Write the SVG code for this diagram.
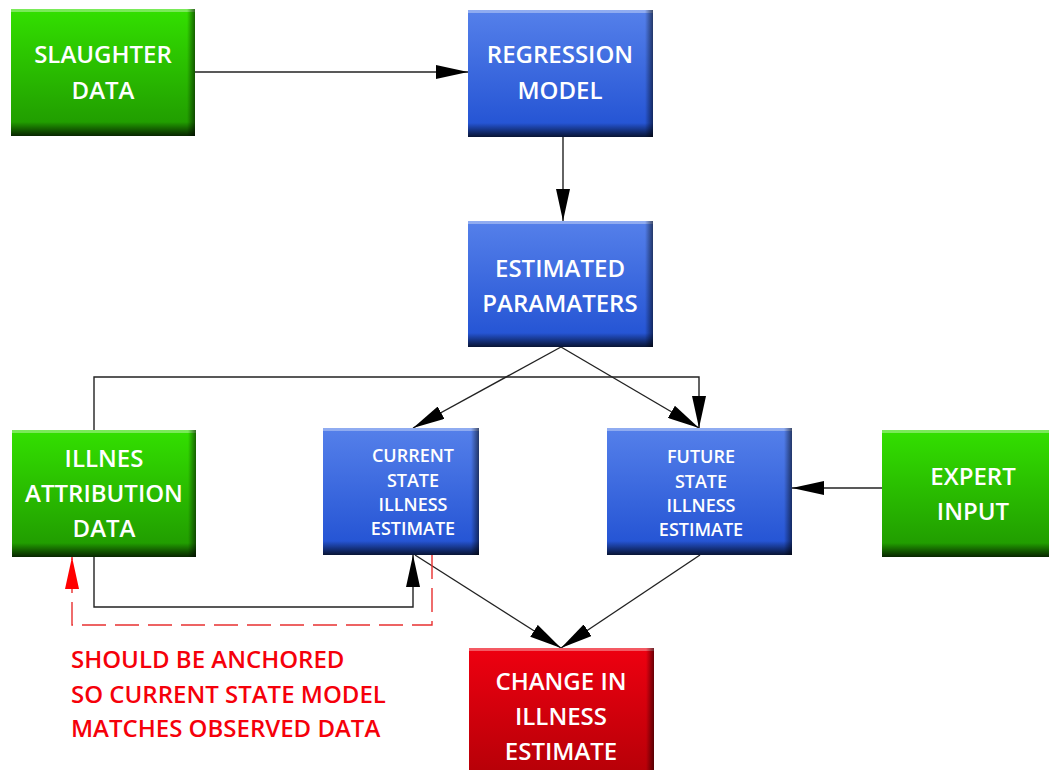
<svg xmlns="http://www.w3.org/2000/svg" width="1049" height="770" viewBox="0 0 1049 770">
<style>
.t{font-family:"Open Sans","Liberation Sans",sans-serif;fill:#fff;text-anchor:middle;font-size:24px;font-weight:600}
.s{font-size:18px}
.r{font-family:"Open Sans","Liberation Sans",sans-serif;fill:#f5000a;font-size:24px;font-weight:600}
.c{fill:none;stroke:#222;stroke-width:1.4}
.d{fill:none;stroke:#e83030;stroke-width:1.4;stroke-dasharray:24 9}
.edge{fill:url(#sh)}
</style>
<defs>
<linearGradient id="g" x1="0" y1="0" x2="0" y2="1"><stop offset="0" stop-color="#33e000"/><stop offset="1" stop-color="#1f9600"/></linearGradient>
<linearGradient id="b" x1="0" y1="0" x2="0" y2="1"><stop offset="0" stop-color="#5580ea"/><stop offset="1" stop-color="#2050d2"/></linearGradient>
<linearGradient id="rd" x1="0" y1="0" x2="0" y2="1"><stop offset="0" stop-color="#ee0010"/><stop offset="1" stop-color="#b80008"/></linearGradient>
<linearGradient id="sh" x1="0" y1="0" x2="0" y2="1"><stop offset="0" stop-color="#000" stop-opacity="0"/><stop offset="1" stop-color="#000" stop-opacity="0.75"/></linearGradient>
<linearGradient id="rs" x1="0" y1="0" x2="1" y2="0"><stop offset="0" stop-color="#000" stop-opacity="0"/><stop offset="1" stop-color="#000" stop-opacity="0.55"/></linearGradient>
<marker id="a" markerWidth="32" markerHeight="14" refX="32" refY="7" orient="auto" markerUnits="userSpaceOnUse"><path d="M0,0 L32,7 L0,14 Z" fill="#000"/></marker>
<marker id="ar" markerWidth="32" markerHeight="14" refX="32" refY="7" orient="auto" markerUnits="userSpaceOnUse"><path d="M0,0 L32,7 L0,14 Z" fill="#f00"/></marker>
</defs>
<g id="connectors">
<line class="c" x1="195" y1="72" x2="468" y2="72" marker-end="url(#a)"/>
<line class="c" x1="563" y1="137" x2="563" y2="221" marker-end="url(#a)"/>
<line class="c" x1="561" y1="347" x2="413" y2="428" marker-end="url(#a)"/>
<line class="c" x1="561" y1="347" x2="699" y2="428" marker-end="url(#a)"/>
<polyline class="c" points="94,430 94,377 699,377 699,428" marker-end="url(#a)"/>
<polyline class="c" points="94,557 94,607 413,607 413,555" marker-end="url(#a)"/>
<line class="c" x1="882" y1="488" x2="792" y2="488" marker-end="url(#a)"/>
<line class="c" x1="415" y1="555" x2="561" y2="648" marker-end="url(#a)"/>
<line class="c" x1="700" y1="555" x2="561" y2="648" marker-end="url(#a)"/>
<polyline class="d" points="432,555 432,625 72,625 72,557" marker-end="url(#ar)"/>
</g>
<g id="slaughter">
<rect x="11" y="9" width="184" height="127" fill="url(#g)"/>
<rect x="11" y="9" width="184" height="3" fill="#fff" opacity="0.35"/>
<rect x="11" y="122" width="184" height="14" class="edge"/>
<rect x="187" y="9" width="8" height="127" fill="url(#rs)"/>
<text class="t" x="103" y="63">SLAUGHTER</text><text class="t" x="103" y="99">DATA</text>
</g>
<g id="regression">
<rect x="468" y="10" width="185" height="127" fill="url(#b)"/>
<rect x="468" y="10" width="185" height="3" fill="#fff" opacity="0.35"/>
<rect x="468" y="123" width="185" height="14" class="edge"/>
<rect x="645" y="10" width="8" height="127" fill="url(#rs)"/>
<text class="t" x="560" y="63">REGRESSION</text><text class="t" x="560" y="99">MODEL</text>
</g>
<g id="estimated">
<rect x="468" y="221" width="185" height="126" fill="url(#b)"/>
<rect x="468" y="221" width="185" height="3" fill="#fff" opacity="0.35"/>
<rect x="468" y="333" width="185" height="14" class="edge"/>
<rect x="645" y="221" width="8" height="126" fill="url(#rs)"/>
<text class="t" x="560" y="277">ESTIMATED</text><text class="t" x="560" y="312">PARAMATERS</text>
</g>
<g id="illnes">
<rect x="12" y="430" width="184" height="127" fill="url(#g)"/>
<rect x="12" y="430" width="184" height="3" fill="#fff" opacity="0.35"/>
<rect x="12" y="543" width="184" height="14" class="edge"/>
<rect x="188" y="430" width="8" height="127" fill="url(#rs)"/>
<text class="t" x="104" y="467">ILLNES</text><text class="t" x="104" y="502">ATTRIBUTION</text><text class="t" x="104" y="537">DATA</text>
</g>
<g id="current">
<rect x="323" y="428" width="156" height="127" fill="url(#b)"/>
<rect x="323" y="428" width="156" height="3" fill="#fff" opacity="0.35"/>
<rect x="323" y="541" width="156" height="14" class="edge"/>
<rect x="471" y="428" width="8" height="127" fill="url(#rs)"/>
<text class="t s" x="413" y="462">CURRENT</text><text class="t s" x="413" y="487">STATE</text><text class="t s" x="413" y="511">ILLNESS</text><text class="t s" x="413" y="535">ESTIMATE</text>
</g>
<g id="future">
<rect x="607" y="428" width="185" height="127" fill="url(#b)"/>
<rect x="607" y="428" width="185" height="3" fill="#fff" opacity="0.35"/>
<rect x="607" y="541" width="185" height="14" class="edge"/>
<rect x="784" y="428" width="8" height="127" fill="url(#rs)"/>
<text class="t s" x="701" y="463">FUTURE</text><text class="t s" x="701" y="488">STATE</text><text class="t s" x="701" y="512">ILLNESS</text><text class="t s" x="701" y="536">ESTIMATE</text>
</g>
<g id="expert">
<rect x="882" y="430" width="167" height="127" fill="url(#g)"/>
<rect x="882" y="430" width="167" height="3" fill="#fff" opacity="0.35"/>
<rect x="882" y="543" width="167" height="14" class="edge"/>
<text class="t" x="973" y="485">EXPERT</text><text class="t" x="973" y="520">INPUT</text>
</g>
<g id="change">
<rect x="469" y="648" width="185" height="122" fill="url(#rd)"/>
<rect x="469" y="648" width="185" height="3" fill="#fff" opacity="0.35"/>
<rect x="646" y="648" width="8" height="122" fill="url(#rs)"/>
<text class="t" x="561" y="690">CHANGE IN</text><text class="t" x="561" y="725">ILLNESS</text><text class="t" x="561" y="760">ESTIMATE</text>
</g>
<g id="note">
<text class="r" x="71" y="668">SHOULD BE ANCHORED</text>
<text class="r" x="71" y="703">SO CURRENT STATE MODEL</text>
<text class="r" x="71" y="737">MATCHES OBSERVED DATA</text>
</g>
</svg>
